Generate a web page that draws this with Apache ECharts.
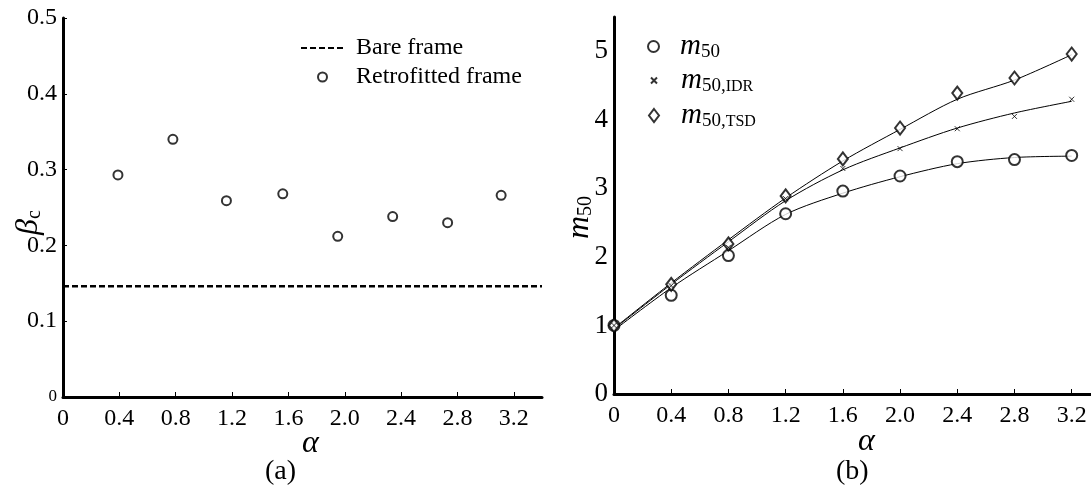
<!DOCTYPE html>
<html>
<head>
<meta charset="utf-8">
<script src="https://cdn.jsdelivr.net/npm/echarts@6/dist/echarts.min.js"></script>
<style>
  html, body { margin: 0; padding: 0; background: #fff; }
  #chart { width: 1091px; height: 488px; }
</style>
</head>
<body>
<div id="chart"></div>
<script>
const serif = "'Liberation Serif', 'Times New Roman', serif";

// (a) beta_c vs alpha
const alphaA = [0.39, 0.78, 1.16, 1.56, 1.95, 2.34, 2.73, 3.11];
const betaRetro = [0.293, 0.340, 0.259, 0.268, 0.212, 0.238, 0.230, 0.266];
const bareX = [0, 3.4];
const bareBeta = [0.146, 0.146];
const xTicks = [0, 0.4, 0.8, 1.2, 1.6, 2.0, 2.4, 2.8, 3.2];
const yTicksA = [0, 0.1, 0.2, 0.3, 0.4, 0.5];

// (b) m50 vs alpha
const alphaB = [0, 0.4, 0.8, 1.2, 1.6, 2.0, 2.4, 2.8, 3.2];
const m50 = [1.0, 1.44, 2.02, 2.63, 2.96, 3.18, 3.39, 3.42, 3.48];
const m50IDR = [1.0, 1.58, 2.14, 2.85, 3.29, 3.58, 3.87, 4.05, 4.30];
const m50TSD = [1.0, 1.60, 2.19, 2.89, 3.43, 3.88, 4.39, 4.61, 4.96];
const fitM50 = [0.93, 1.55, 2.09, 2.62, 2.93, 3.17, 3.36, 3.45, 3.47];
const fitIDR = [0.95, 1.60, 2.22, 2.82, 3.27, 3.59, 3.88, 4.10, 4.27];
const fitTSD = [0.96, 1.62, 2.25, 2.86, 3.40, 3.86, 4.30, 4.58, 4.95];
const yTicksB = [0, 1, 2, 3, 4, 5];

const pairs = (xs, ys) => xs.map((x, i) => [x, ys[i]]);

const axisLine = { show: true, onZero: false, lineStyle: { color: "#000", width: 3 } };
const tickIn = (vals, len) => ({ show: true, inside: true, length: len, customValues: vals, lineStyle: { color: "#000", width: 1 } });
const xLabel = vals => ({
  customValues: vals, margin: 10, color: "#000", fontFamily: serif, fontSize: 24,
  formatter: v => (v === 0 ? "0" : v.toFixed(1))
});
const lbl = (name, gap, pad) => ({
  name: name, nameLocation: "middle", nameGap: gap, nameMoveOverlap: false,
  nameTextStyle: {
    color: "#000", fontFamily: serif, padding: pad,
    rich: {
      g: { fontFamily: serif, fontStyle: "italic", fontSize: 32, color: "#000" },
      s: { fontFamily: serif, fontSize: 20, color: "#000", padding: [12, 0, 0, 0] }
    }
  }
});

const chart = echarts.init(document.getElementById("chart"));
const legendText = pad => ({
  color: "#000", fontFamily: serif, fontSize: 24, padding: [0, 0, 0, pad],
  rich: {
    m: { fontFamily: serif, fontStyle: "italic", fontSize: 29, color: "#000" },
    s: { fontFamily: serif, fontSize: 19, color: "#000", padding: [12, 0, 0, 0] },
    t: { fontFamily: serif, fontSize: 16, color: "#000", padding: [13, 0, 0, 0] }
  }
});
const legendFmt = name => {
  if (name === "m50") return "{m|m}{s|50}";
  if (name === "m50,IDR") return "{m|m}{s|50,}{t|IDR}";
  if (name === "m50,TSD") return "{m|m}{s|50,}{t|TSD}";
  return name;
};

chart.setOption({
  backgroundColor: "#fff",
  animation: false,
  textStyle: { fontFamily: serif },
  grid: [
    { left: 63, top: 18, width: 479, bottom: 91, outerBoundsMode: "none", containLabel: false },
    { left: 614, top: 17, right: 0, bottom: 94, outerBoundsMode: "none", containLabel: false }
  ],
  legend: [
    {
      orient: "vertical", left: 295, top: 31, itemWidth: 43, itemHeight: 9, itemGap: 5,
      data: [{ name: "Bare frame", itemStyle: { opacity: 0 } }, "Retrofitted frame"],
      textStyle: { color: "#000", fontFamily: serif, fontSize: 24, lineHeight: 24, padding: [0, 0, 0, 7] }
    },
    { left: 642, top: 27, itemWidth: 11, itemHeight: 11, data: ["m50"], formatter: legendFmt, textStyle: legendText(16) },
    { left: 645, top: 61, itemWidth: 6, itemHeight: 6, data: ["m50,IDR"], formatter: legendFmt, textStyle: legendText(19) },
    { left: 643, top: 96, itemWidth: 10, itemHeight: 13, data: ["m50,TSD"], formatter: legendFmt, textStyle: legendText(17) }
  ],
  xAxis: [
    Object.assign({
      type: "value", gridIndex: 0, min: 0, max: 3.4,
      axisLine: axisLine, axisTick: tickIn(xTicks, 5), axisLabel: xLabel(xTicks), splitLine: { show: false }
    }, lbl("{g|α}", 31, [0, 0, 0, 16])),
    Object.assign({
      type: "value", gridIndex: 1, min: 0, max: 3.335,
      axisLine: axisLine, axisTick: tickIn(xTicks, 5), axisLabel: xLabel(xTicks), splitLine: { show: false }
    }, lbl("{g|α}", 32, [0, 0, 0, 28]))
  ],
  yAxis: [
    Object.assign({
      type: "value", gridIndex: 0, min: 0, max: 0.5,
      axisLine: axisLine, axisTick: tickIn(yTicksA, 4), splitLine: { show: false },
      axisLabel: {
        customValues: yTicksA, margin: 6, color: "#000", fontFamily: serif, fontSize: 24,
        formatter: v => (v === 0 ? "{z|0}" : v.toFixed(1)),
        rich: { z: { fontFamily: serif, fontSize: 17, color: "#000" } }
      }
    }, lbl("{g|β}{s|c}", 18, [0, 30, 0, 0])),
    Object.assign({
      type: "value", gridIndex: 1, min: 0, max: 5.5,
      axisLine: axisLine, axisTick: { show: false }, splitLine: { show: false },
      axisLabel: {
        customValues: yTicksB, margin: 6, color: "#000", fontFamily: serif, fontSize: 27
      }
    }, lbl("{g|m}{s|50}", 18, [0, 24, 0, 0]))
  ],
  series: [
    {
      name: "Bare frame", type: "line", xAxisIndex: 0, yAxisIndex: 0,
      data: pairs(bareX, bareBeta), symbol: "none",
      lineStyle: { color: "#000", width: 2.5, type: [6, 3] }
    },
    {
      name: "Retrofitted frame", type: "scatter", xAxisIndex: 0, yAxisIndex: 0,
      data: pairs(alphaA, betaRetro), symbol: "emptyCircle", symbolSize: 9,
      itemStyle: { color: "#000", borderColor: "#000", borderWidth: 1 }
    },
    {
      name: "fit m50", type: "line", xAxisIndex: 1, yAxisIndex: 1, data: pairs(alphaB, fitM50),
      symbol: "none", smooth: 0.3, lineStyle: { color: "#000", width: 1 }
    },
    {
      name: "fit IDR", type: "line", xAxisIndex: 1, yAxisIndex: 1, data: pairs(alphaB, fitIDR),
      symbol: "none", smooth: 0.3, lineStyle: { color: "#000", width: 1 }
    },
    {
      name: "fit TSD", type: "line", xAxisIndex: 1, yAxisIndex: 1, data: pairs(alphaB, fitTSD),
      symbol: "none", smooth: 0.3, lineStyle: { color: "#000", width: 1 }
    },
    {
      name: "m50", type: "scatter", xAxisIndex: 1, yAxisIndex: 1, data: pairs(alphaB, m50),
      symbol: "emptyCircle", symbolSize: 11, z: 3,
      itemStyle: { color: "#000", borderColor: "#000", borderWidth: 1 }
    },
    {
      name: "m50,IDR", type: "scatter", xAxisIndex: 1, yAxisIndex: 1, data: pairs(alphaB, m50IDR),
      symbol: "path://M0,0L10,10M10,0L0,10", symbolSize: 5, z: 4,
      itemStyle: { color: "#000", borderColor: "#000", borderWidth: 1 }
    },
    {
      name: "m50,TSD", type: "scatter", xAxisIndex: 1, yAxisIndex: 1, data: pairs(alphaB, m50TSD),
      symbol: "emptyDiamond", symbolSize: [10, 13], z: 3,
      itemStyle: { color: "#000", borderColor: "#000", borderWidth: 1 }
    }
  ],
  graphic: [
    { type: "text", left: 265, top: 458, style: { text: "(a)", fontFamily: serif, fontSize: 28, fill: "#000" } },
    { type: "text", left: 836, top: 458, style: { text: "(b)", fontFamily: serif, fontSize: 28, fill: "#000" } }
  ]
});
</script>
</body>
</html>
